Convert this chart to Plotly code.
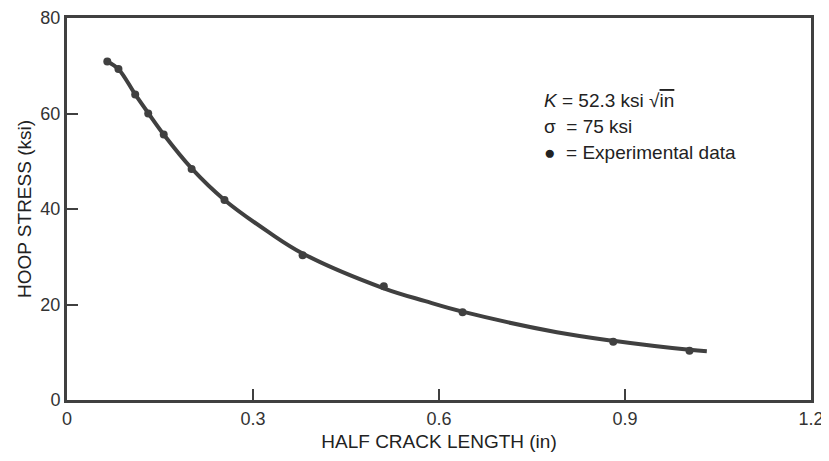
import plotly.graph_objects as go

crack_len = [0.065, 0.083, 0.110, 0.131, 0.156, 0.201, 0.254, 0.380, 0.511, 0.638, 0.881, 1.004]
hoop_stress = [70.9, 69.3, 64.0, 60.0, 55.6, 48.4, 41.9, 30.3, 23.8, 18.4, 12.2, 10.3]

# Fitted curve
curve_x = [0.065, 0.083, 0.110, 0.131, 0.156, 0.201, 0.254, 0.327, 0.380, 0.511, 0.578, 0.638, 0.790, 0.881, 1.004, 1.032]
curve_y = [70.9, 69.3, 64.0, 60.1, 55.6, 48.5, 41.9, 35.0, 30.7, 23.4, 20.7, 18.5, 14.2, 12.4, 10.5, 10.2]

x_ticks = [0, 0.3, 0.6, 0.9, 1.2]
x_tick_text = ["0", "0.3", "0.6", "0.9", "1.2"]
y_ticks = [0, 20, 40, 60, 80]
y_tick_text = ["0", "20", "40", "60", "80"]

ink = "#404040"
font_family = "Liberation Sans, Arial, sans-serif"

fig = go.Figure()
fig.add_trace(go.Scatter(x=curve_x, y=curve_y, mode="lines",
                         line=dict(color=ink, width=4, shape="spline", smoothing=1.0),
                         hoverinfo="skip", showlegend=False))
fig.add_trace(go.Scatter(x=crack_len, y=hoop_stress, mode="markers",
                         marker=dict(color=ink, size=8), showlegend=False))

legend_lines = [
    "<i>K</i> = 52.3 ksi √<span style='text-decoration:overline'>in</span>",
    "σ  = 75 ksi",
    "●  = Experimental data",
]
for i, t in enumerate(legend_lines):
    fig.add_annotation(x=0.766, y=62.8 - i * 5.45, xref="x", yref="y", text=t,
                       showarrow=False, xanchor="left", yanchor="middle",
                       font=dict(family=font_family, size=19, color="#222"))

fig.update_xaxes(range=[0, 1.2], tickvals=x_ticks, ticktext=x_tick_text, automargin=False,
                 showgrid=False, zeroline=False, showline=True, linecolor=ink, linewidth=3,
                 mirror=True, ticks="inside", ticklen=11, tickwidth=2, tickcolor=ink,
                 tickfont=dict(family=font_family, size=18, color="#333"),
                 title=dict(text="HALF CRACK LENGTH (in)", standoff=8,
                            font=dict(family=font_family, size=19, color="#222")))
fig.update_yaxes(range=[0, 80], tickvals=y_ticks, ticktext=y_tick_text, automargin=False,
                 showgrid=False, zeroline=False, showline=True, linecolor=ink, linewidth=3,
                 mirror=True, ticks="inside", ticklen=11, tickwidth=2, tickcolor=ink,
                 tickfont=dict(family=font_family, size=18, color="#333"),
                 title=dict(text="HOOP STRESS (ksi)", standoff=4,
                            font=dict(family=font_family, size=19, color="#222")))

# the page body adds an 8 px margin, so the figure is sized to fit the window
fig.update_layout(width=821, height=453, paper_bgcolor="white", plot_bgcolor="white",
                  margin=dict(l=59, r=18, t=10, b=61), showlegend=False)

fig.write_html("out.html")
